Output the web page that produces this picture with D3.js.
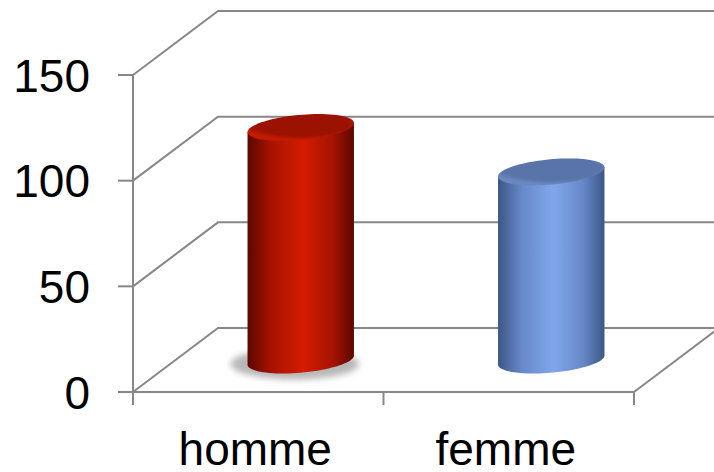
<!DOCTYPE html>
<html>
<head>
<meta charset="utf-8">
<script src="https://cdn.jsdelivr.net/npm/d3@7"></script>
<style>
  body { margin: 0; background: #fff; }
  text { font-family: "Liberation Sans", Arial, sans-serif; fill: #000; }
</style>
</head>
<body>
<svg id="chart"></svg>
<script>
// data
const categories = ['homme', 'femme'];
const values = [110, 89];
const yTicks = [0, 50, 100, 150];
const palettes = [
    { edge: '#5c0800', mid: '#a61300', light: '#d41c02', top: '#9c1200', rim: '#c41a02' },
    { edge: '#3c5686', mid: '#6788c8', light: '#80a7ea', top: '#5874a8', rim: '#6a88c0' }
];

const width = 714, height = 472;
const plotLeft = 133, plotRight = 634, plotBottom = 392, plotTop = 75;
const dx = 85, dy = -64;   // depth offset of the back wall

const svg = d3.select('#chart')
    .attr('width', width)
    .attr('height', height);

const defs = svg.append('defs');

const x = d3.scaleBand()
    .domain(categories)
    .range([plotLeft, plotRight])
    .padding(0);

const y = d3.scaleLinear()
    .domain([0, 150])
    .range([plotBottom, plotTop]);

const grid = '#878787';

// back wall + floor grid lines
yTicks.forEach(t => {
    svg.append('path')
        .attr('d', `M${plotLeft},${y(t)} L${plotLeft + dx},${y(t) + dy} L${width + 5},${y(t) + dy}`)
        .attr('fill', 'none')
        .attr('stroke', grid)
        .attr('stroke-width', 2);
});

// right edge of the floor
svg.append('line')
    .attr('x1', plotRight).attr('y1', plotBottom)
    .attr('x2', plotRight + dx).attr('y2', plotBottom + dy)
    .attr('stroke', grid).attr('stroke-width', 2);

// front y axis
svg.append('line')
    .attr('x1', plotLeft).attr('y1', y(150))
    .attr('x2', plotLeft).attr('y2', plotBottom + 13)
    .attr('stroke', grid).attr('stroke-width', 2);

yTicks.forEach(t => {
    svg.append('line')
        .attr('x1', plotLeft - 15).attr('y1', y(t))
        .attr('x2', plotLeft).attr('y2', y(t))
        .attr('stroke', grid).attr('stroke-width', 2);
    svg.append('text')
        .attr('x', 90)
        .attr('y', y(t) + 16.5)
        .attr('text-anchor', 'end')
        .attr('font-size', 46)
        .text(t);
});

// front x axis line and ticks
svg.append('line')
    .attr('x1', plotLeft).attr('y1', plotBottom)
    .attr('x2', plotRight).attr('y2', plotBottom)
    .attr('stroke', grid).attr('stroke-width', 2);

[plotLeft, ...categories.map(c => x(c) + x.bandwidth())].forEach(px => {
    svg.append('line')
        .attr('x1', px).attr('y1', plotBottom)
        .attr('x2', px).attr('y2', plotBottom + 13)
        .attr('stroke', grid).attr('stroke-width', 2);
});

categories.forEach(c => {
    svg.append('text')
        .attr('x', x(c) + x.bandwidth() / 2 - 3)
        .attr('y', 465)
        .attr('text-anchor', 'middle')
        .attr('font-size', 46)
        .text(c);
});

// shadow blur
const blur = defs.append('filter').attr('id', 'blur')
    .attr('x', '-20%').attr('y', '-50%').attr('width', '140%').attr('height', '200%');
blur.append('feGaussianBlur').attr('stdDeviation', 3);

// cylinders
const r = x.bandwidth() * 0.2;   // radius across
const ey = 13.5;                 // half height of the projected circle
const ex = ey * dx / -dy;        // horizontal shear of the projected circle
const theta = Math.atan2(ex, r);

function ellipsePoint(cx, cy, t) {
    return [cx + r * Math.cos(t) + ex * Math.sin(t), cy - ey * Math.sin(t)];
}

function arc(cx, cy, t0, t1, n) {
    return d3.range(n + 1).map(i => ellipsePoint(cx, cy, t0 + (t1 - t0) * i / n));
}

const line = d3.line();

categories.forEach((c, i) => {
    const p = palettes[i];
    const cx = x(c) + x.bandwidth() / 2 + dx / 2;
    const baseY = y(0) + dy / 2;
    const topY = y(values[i]) + dy / 2;

    const gBody = defs.append('linearGradient').attr('id', 'body' + i)
        .attr('x1', 0).attr('x2', 1).attr('y1', 0).attr('y2', 0);
    [[0, p.edge], [0.22, p.mid], [0.52, p.light], [0.8, p.mid], [1, p.edge]].forEach(([o, col]) =>
        gBody.append('stop').attr('offset', o).attr('stop-color', col));

    const gTop = defs.append('radialGradient').attr('id', 'top' + i)
        .attr('cx', 0.5).attr('cy', 0.35).attr('r', 0.6);
    [[0, p.top], [0.75, p.top], [1, p.rim]].forEach(([o, col]) =>
        gTop.append('stop').attr('offset', o).attr('stop-color', col));

    // soft shadow on the floor for the first bar
    if (i === 0) {
        svg.append('ellipse')
            .attr('cx', cx - 6).attr('cy', baseY + 4)
            .attr('rx', r + 14).attr('ry', ey + 2)
            .attr('fill', '#999')
            .attr('opacity', 0.7)
            .attr('filter', 'url(#blur)');
    }

    // body: left extreme -> front half of base -> right extreme -> up
    const tl = Math.PI + theta, tr = theta;
    const front = arc(cx, baseY, tl, 2 * Math.PI + tr, 40);
    const body = [ellipsePoint(cx, topY, tl), ...front, ellipsePoint(cx, topY, tr)];
    svg.append('path')
        .attr('d', line(body) + 'Z')
        .attr('fill', `url(#body${i})`);

    // top cap
    svg.append('path')
        .attr('d', line(arc(cx, topY, 0, 2 * Math.PI, 80)) + 'Z')
        .attr('fill', `url(#top${i})`);
});
</script>
</body>
</html>
